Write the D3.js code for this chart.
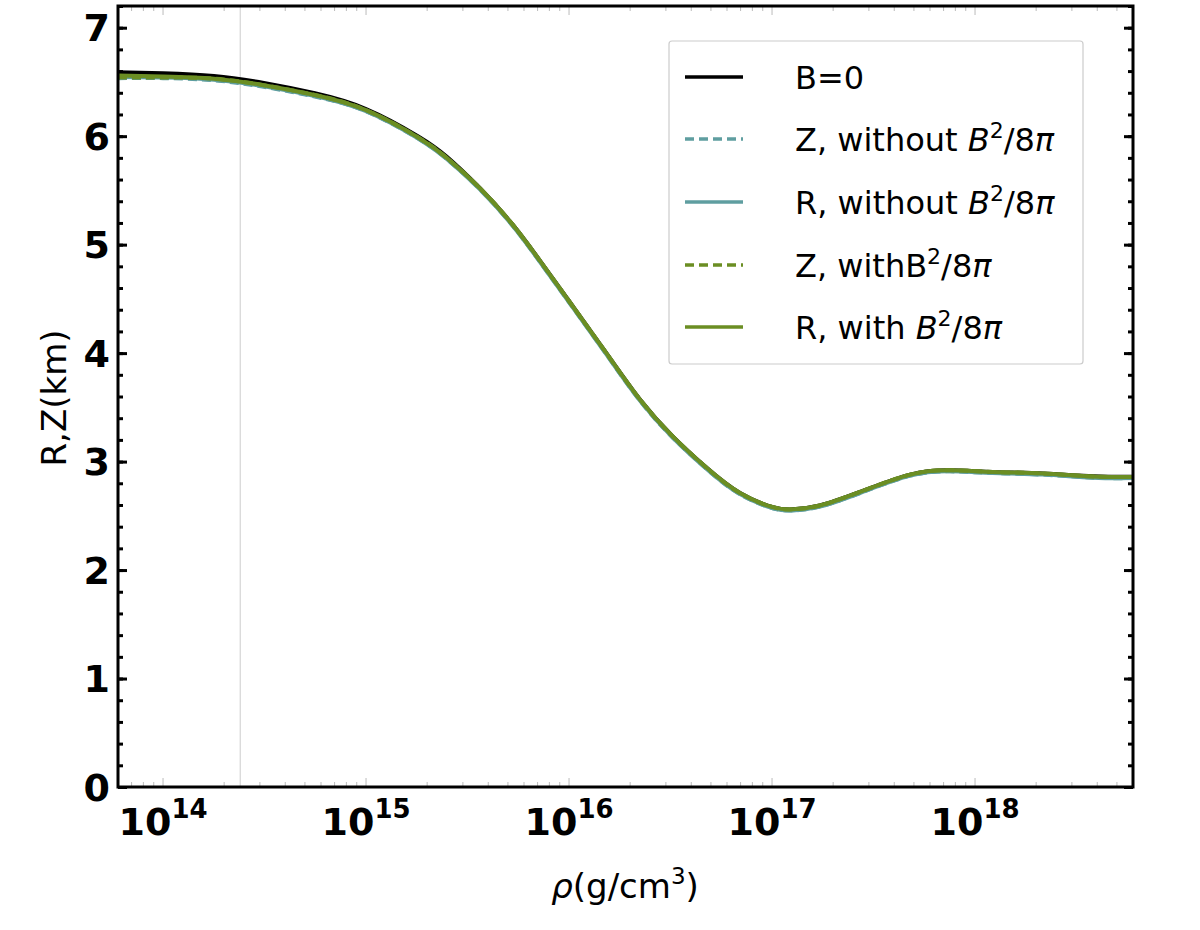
<!DOCTYPE html>
<html>
<head>
<meta charset="utf-8">
<script src="https://cdn.jsdelivr.net/npm/d3@7"></script>
<style>
  body { margin: 0; background: #fff; }
  svg { display: block; font-family: "DejaVu Sans", Verdana, sans-serif; }
</style>
</head>
<body>
<svg id="chart" width="1200" height="930"></svg>
<script>
// ---------------- data ----------------
const rho = [6.0e13, 1.0e14, 1.78e14, 3.14e14, 5.6e14, 1.0e15, 1.8e15, 2.5e15, 3.64e15, 5.3e15,
             7.2e15, 1.045e16, 1.54e16, 2.24e16, 3.25e16, 4.78e16, 6.95e16, 1.01e17, 1.27e17, 1.72e17,
             2.71e17, 4.79e17, 7.53e17, 1.22e18, 2.16e18, 3.81e18, 6.0e18];
const rB0      = [6.59, 6.58, 6.555, 6.49, 6.395, 6.25, 6.00, 5.81, 5.52, 5.18,
                  4.85, 4.43, 3.99, 3.57, 3.23, 2.94, 2.71, 2.58, 2.56, 2.595,
                  2.72, 2.88, 2.92, 2.905, 2.89, 2.865, 2.86];
const zWithout = [6.535, 6.535, 6.515, 6.455, 6.365, 6.23, 5.98, 5.79, 5.51, 5.17,
                  4.84, 4.42, 3.98, 3.56, 3.22, 2.93, 2.70, 2.57, 2.55, 2.585,
                  2.71, 2.87, 2.91, 2.895, 2.88, 2.852, 2.848];
const rWithout = [6.545, 6.54, 6.52, 6.46, 6.37, 6.23, 5.98, 5.79, 5.51, 5.17,
                  4.84, 4.42, 3.98, 3.56, 3.22, 2.93, 2.70, 2.57, 2.55, 2.585,
                  2.71, 2.87, 2.91, 2.895, 2.88, 2.852, 2.848];
const zWith    = [6.54, 6.54, 6.53, 6.47, 6.38, 6.24, 5.99, 5.80, 5.52, 5.18,
                  4.85, 4.43, 3.99, 3.57, 3.23, 2.94, 2.71, 2.58, 2.56, 2.595,
                  2.72, 2.88, 2.92, 2.905, 2.89, 2.862, 2.858];
const rWith    = [6.56, 6.55, 6.53, 6.47, 6.38, 6.24, 5.99, 5.80, 5.52, 5.18,
                  4.85, 4.43, 3.99, 3.57, 3.23, 2.94, 2.71, 2.58, 2.56, 2.595,
                  2.72, 2.88, 2.92, 2.905, 2.89, 2.862, 2.858];
const refLine = [2.4e14];
const yTicks = [0, 1, 2, 3, 4, 5, 6, 7];
const xTickExps = [14, 15, 16, 17, 18];

const seriesNames = ["B=0", "Z, without B²/8π", "R, without B²/8π", "Z, withB²/8π", "R, with B²/8π"];
const seriesValues = [rB0, zWithout, rWithout, zWith, rWith];
const seriesColors = ["#000000", "#5f9ea0", "#5f9ea0", "#6b8e23", "#6b8e23"];
const seriesDash = [null, "9,5", null, "9,5", null];

// ---------------- layout ----------------
const L = 118, R = 1133, T = 6, B = 787;
const svg = d3.select("#chart");
const x = d3.scaleLog().domain([6e13, 6e18]).range([L, R]);
const y = d3.scaleLinear().domain([0, 7.2]).range([B, T]);

// reference vertical line
svg.selectAll("line.ref").data(refLine).enter().append("line")
  .attr("x1", d => x(d)).attr("x2", d => x(d)).attr("y1", T).attr("y2", B)
  .attr("stroke", "#cccccc").attr("stroke-width", 1);

// x ticks (bottom & top), inward, gray
const minorX = [];
for (let e = 13; e <= 18; e++) for (let m = 1; m <= 9; m++) {
  const v = m * Math.pow(10, e);
  if (v >= 6e13 && v <= 6e18) minorX.push({v, major: m === 1});
}
const gx = svg.append("g");
gx.selectAll("line.xb").data(minorX).enter().append("line")
  .attr("x1", d => x(d.v)).attr("x2", d => x(d.v))
  .attr("y1", B).attr("y2", d => B - (d.major ? 9 : 5))
  .attr("stroke", "#bbbbbb").attr("stroke-width", 1);
gx.selectAll("line.xt").data(minorX).enter().append("line")
  .attr("x1", d => x(d.v)).attr("x2", d => x(d.v))
  .attr("y1", T).attr("y2", d => T + (d.major ? 9 : 5))
  .attr("stroke", "#bbbbbb").attr("stroke-width", 1);

// y ticks via axes
const yMinor = d3.range(0, 7.21, 0.2);
const yLeftMinor = d3.axisRight(y).tickValues(yMinor).tickSize(5).tickFormat("");
const yLeftMajor = d3.axisRight(y).tickValues(yTicks).tickSize(9).tickFormat("");
const yRightMinor = d3.axisLeft(y).tickValues(yMinor).tickSize(5).tickFormat("");
const yRightMajor = d3.axisLeft(y).tickValues(yTicks).tickSize(9).tickFormat("");
[[yLeftMinor, L], [yLeftMajor, L], [yRightMinor, R], [yRightMajor, R]].forEach(([ax, px]) => {
  const g = svg.append("g").attr("transform", `translate(${px},0)`).call(ax);
  g.select(".domain").remove();
  g.selectAll("line").attr("stroke", "#000").attr("stroke-width", 3);
});

// curves
const line = d3.line()
  .x((d, i) => x(rho[i]))
  .y(d => y(d))
  .curve(d3.curveNatural);
const plot = svg.append("g");
seriesValues.forEach((vals, k) => {
  plot.append("path").datum(vals)
    .attr("d", line)
    .attr("fill", "none")
    .attr("stroke", seriesColors[k])
    .attr("stroke-width", 4)
    .attr("stroke-dasharray", seriesDash[k]);
});

// spines
svg.append("rect").attr("x", L).attr("y", T).attr("width", R - L).attr("height", B - T)
  .attr("fill", "none").attr("stroke", "#000").attr("stroke-width", 3);

// y tick labels
svg.selectAll("text.yl").data(yTicks).enter().append("text")
  .attr("x", L - 8).attr("y", d => y(d)).attr("dy", "0.36em")
  .attr("text-anchor", "end").attr("font-weight", "bold").attr("font-size", 38)
  .text(d => d);

// x tick labels
const xl = svg.selectAll("text.xl").data(xTickExps).enter().append("text")
  .attr("x", d => x(Math.pow(10, d))).attr("y", 835)
  .attr("text-anchor", "middle").attr("font-weight", "bold").attr("font-size", 38);
xl.append("tspan").text("10");
xl.append("tspan").attr("font-size", 26).attr("dy", -17).text(d => d);

// axis labels
const xlab = svg.append("text").attr("x", 625).attr("y", 898).attr("text-anchor", "middle")
  .attr("font-size", 34);
xlab.append("tspan").attr("font-style", "italic").text("ρ");
xlab.append("tspan").text("(g/cm");
xlab.append("tspan").attr("font-size", 23).attr("dy", -14).text("3");
xlab.append("tspan").attr("dy", 14).text(")");

svg.append("text").attr("transform", "translate(66,398) rotate(-90)")
  .attr("text-anchor", "middle").attr("font-size", 34).text("R,Z(km)");

// legend
const lg = svg.append("g");
lg.append("rect").attr("x", 669).attr("y", 41).attr("width", 414).attr("height", 323)
  .attr("rx", 3).attr("fill", "#fff").attr("fill-opacity", 0.85)
  .attr("stroke", "#cccccc").attr("stroke-width", 1.2);
const rowY = [77, 139, 202, 265, 327];
const legendParts = [
  [["B=0", null]],
  [["Z, without ", null], ["B", "i"], ["2", "sup"], ["/8", null], ["π", "i"]],
  [["R, without ", null], ["B", "i"], ["2", "sup"], ["/8", null], ["π", "i"]],
  [["Z, withB", null], ["2", "sup"], ["/8", null], ["π", "i"]],
  [["R, with ", null], ["B", "i"], ["2", "sup"], ["/8", null], ["π", "i"]]
];
seriesNames.forEach((name, k) => {
  lg.append("line").attr("x1", 685).attr("x2", 743).attr("y1", rowY[k]).attr("y2", rowY[k])
    .attr("stroke", seriesColors[k]).attr("stroke-width", 3.5)
    .attr("stroke-dasharray", seriesDash[k]);
  const t = lg.append("text").attr("x", 795).attr("y", rowY[k]).attr("dy", "0.36em")
    .attr("font-size", 32);
  let up = false;
  legendParts[k].forEach(([s, f]) => {
    const ts = t.append("tspan").text(s);
    if (f === "i") ts.attr("font-style", "italic");
    if (f === "sup") { ts.attr("font-size", 22).attr("dy", -13); up = true; }
    else if (up) { ts.attr("dy", 13); up = false; }
  });
});
</script>
</body>
</html>
